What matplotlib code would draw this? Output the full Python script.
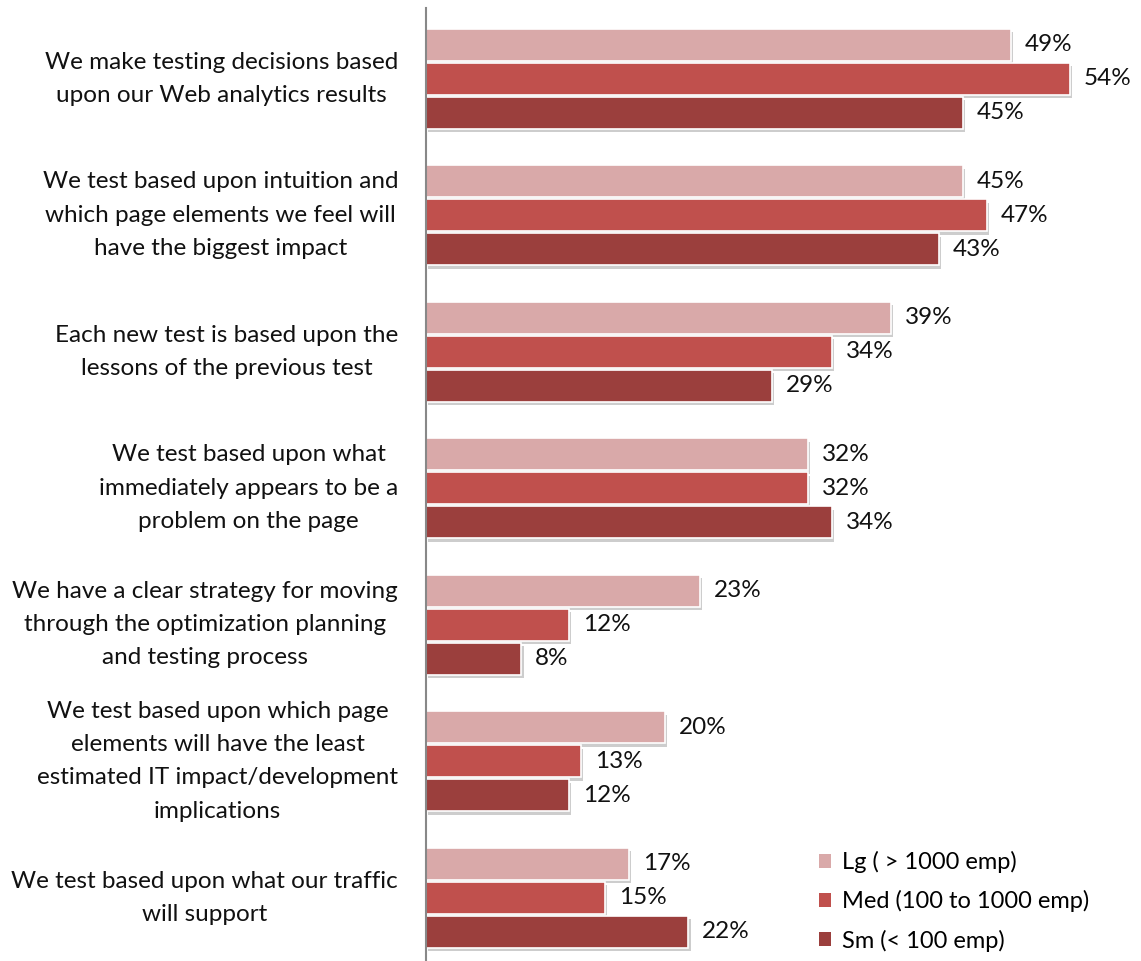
import numpy as np
import matplotlib
matplotlib.use("Agg")
import matplotlib.pyplot as plt
import matplotlib.patheffects as pe
from matplotlib.patches import Patch

categories = [
    "We make testing decisions based\nupon our Web analytics results",
    "We test based upon intuition and\nwhich page elements we feel will\nhave the biggest impact",
    "Each new test is based upon the\nlessons of the previous test",
    "We test based upon what\nimmediately appears to be a\nproblem on the page",
    "We have a clear strategy for moving\nthrough the optimization planning\nand testing process",
    "We test based upon which page\nelements will have the least\nestimated IT impact/development\nimplications",
    "We test based upon what our traffic\nwill support",
]
series_names = ["Lg ( > 1000 emp)", "Med (100 to 1000 emp)", "Sm (< 100 emp)"]
lg = [49, 45, 39, 32, 23, 20, 17]
med = [54, 47, 34, 32, 12, 13, 15]
sm = [45, 43, 29, 34, 8, 12, 22]
colors = ["#D9A9A9", "#C0504D", "#9B3F3D"]

plt.rcParams['font.family'] = ['Lato', 'DejaVu Sans']

fig = plt.figure(figsize=(11.41, 9.61), dpi=100)
ax = fig.add_axes([426 / 1141, 0, 715 / 1141, 953 / 961])

centers = np.arange(len(categories)) + 0.518
bar_h = 0.234
step = 0.249
shadow = [pe.SimplePatchShadow(offset=(1.5, -2.5), shadow_rgbFace="#909090", alpha=0.45), pe.Normal()]

for k, (vals, col, name) in enumerate(zip([lg, med, sm], colors, series_names)):
    ys = centers + (k - 1) * step
    bars = ax.barh(ys, vals, height=bar_h, color=col, edgecolor="white", linewidth=1.2)
    for b in bars:
        b.set_path_effects(shadow)
    for y, v in zip(ys, vals):
        ax.annotate(f"{v}%", (v, y), xytext=(10, 0), textcoords="offset points",
                    va="center", ha="left", fontsize=17.5, color="#111111")

ax.set_xlim(0, 715 / 11.93)
ax.set_ylim(953 / 136.5, 0)
ax.set_yticks(centers)
ax.set_yticklabels(categories, fontsize=17.5, color="#111111", linespacing=1.72)
for lbl in ax.get_yticklabels():
    lbl.set_multialignment("center")
    lbl.set_verticalalignment("center")
ax.tick_params(axis="y", length=0, pad=20)
ax.set_xticks([])
for s in ["top", "right", "bottom"]:
    ax.spines[s].set_visible(False)
ax.spines["left"].set_color("#888888")
ax.spines["left"].set_linewidth(1.5)

handles = [Patch(facecolor=c, edgecolor="none") for c in colors]
fig.legend(handles=handles, labels=series_names, loc="upper left",
           bbox_to_anchor=(798 / 1141, 1 - 830 / 961), frameon=False,
           fontsize=17, handlelength=0.5, handleheight=0.5, handletextpad=0.45,
           labelspacing=0.72)

fig.savefig("out.png", dpi=100)
